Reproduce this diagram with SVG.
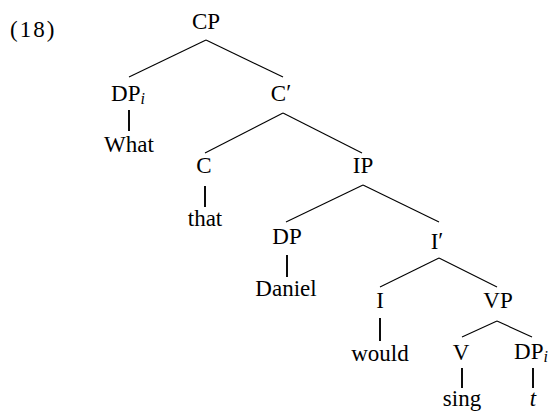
<svg xmlns="http://www.w3.org/2000/svg" width="552" height="412" viewBox="0 0 552 412">
<style>
text{font-size:23px;fill:#000;text-anchor:middle}
.sub{font-style:italic;font-size:16px}
.it{font-style:italic}
.edge line{stroke:#000;stroke-width:1.1;fill:none}
.edge line.v{stroke-width:1.9}
</style>
<rect width="552" height="412" fill="#fff"/>
<g font-family="Liberation Serif, serif">
<text x="10" y="37" style="text-anchor:start" letter-spacing="2">(18)</text>
<g class="edge" id="connectors">
<line x1="206" y1="40" x2="129" y2="77"/>
<line x1="206" y1="40" x2="283" y2="77"/>
<line class="v" x1="129" y1="110" x2="129" y2="131"/>
<line x1="283" y1="113" x2="205" y2="153"/>
<line x1="283" y1="113" x2="362" y2="153"/>
<line class="v" x1="205" y1="186" x2="205" y2="207"/>
<line x1="363" y1="185" x2="286" y2="222"/>
<line x1="363" y1="185" x2="439" y2="222"/>
<line class="v" x1="287" y1="255" x2="287" y2="277"/>
<line x1="439" y1="258" x2="380" y2="287"/>
<line x1="439" y1="258" x2="497" y2="287"/>
<line class="v" x1="380" y1="318" x2="380" y2="341"/>
<line x1="497" y1="321" x2="462" y2="337"/>
<line x1="497" y1="321" x2="532" y2="337"/>
<line class="v" x1="462" y1="368" x2="462" y2="388"/>
<line class="v" x1="533" y1="368" x2="533" y2="388"/>
</g>
<g id="CP"><text x="206" y="29">CP</text></g>
<g id="DPi"><text x="128" y="101">DP<tspan class="sub" dy="3">i</tspan></text></g>
<g id="What"><text x="129" y="152">What</text></g>
<g id="Cbar"><text x="281" y="101">C<tspan dy="-1">′</tspan></text></g>
<g id="C"><text x="204" y="173">C</text></g>
<g id="that"><text x="205" y="226">that</text></g>
<g id="IP"><text x="363" y="173">IP</text></g>
<g id="DP"><text x="287" y="244">DP</text></g>
<g id="Daniel"><text x="286" y="296">Daniel</text></g>
<g id="Ibar"><text x="437" y="249">I<tspan dy="-1">′</tspan></text></g>
<g id="I"><text x="380" y="308">I</text></g>
<g id="would"><text x="380" y="361">would</text></g>
<g id="VP"><text x="498" y="308">VP</text></g>
<g id="V"><text x="461" y="360">V</text></g>
<g id="sing"><text x="462" y="406">sing</text></g>
<g id="DPi2"><text x="531" y="359">DP<tspan class="sub" dy="3">i</tspan></text></g>
<g id="t"><text x="533" y="406" class="it">t</text></g>
</g>
</svg>
